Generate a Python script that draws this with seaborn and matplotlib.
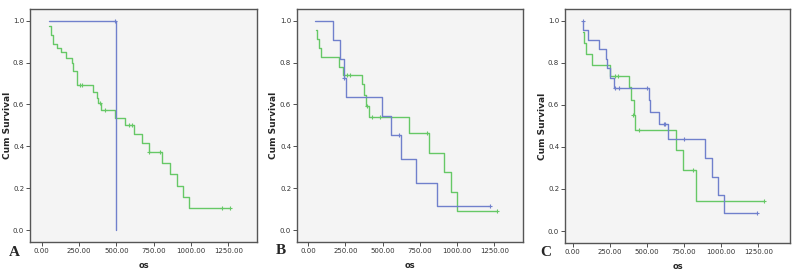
import numpy as np
import pandas as pd
import matplotlib
matplotlib.use("Agg")
import matplotlib.pyplot as plt
import seaborn as sns

# ---------------- data ----------------
# Panel A
a_blue_t = [50, 500]
a_blue_s = [1.0, 0.0]
a_blue_ct = [490]
a_blue_cs = [1.0]

a_green_t = [49, 60, 74, 100, 129, 163, 201, 212, 234, 346, 368, 379, 395, 491, 558,
             620, 670, 719, 804, 859, 904, 944, 989, 1261]
a_green_s = [0.975, 0.93, 0.89, 0.87, 0.85, 0.82, 0.80, 0.76, 0.695, 0.66, 0.63, 0.605,
             0.573, 0.537, 0.50, 0.46, 0.415, 0.375, 0.32, 0.27, 0.21, 0.16, 0.105, 0.105]
a_green_ct = [255, 268, 390, 424, 587, 607, 721, 792, 1205, 1261]
a_green_cs = [0.695, 0.695, 0.605, 0.573, 0.50, 0.50, 0.375, 0.375, 0.105, 0.105]

# Panel B
b_blue_t = [49, 167, 217, 239, 257, 496, 558, 625, 725, 868, 1221]
b_blue_s = [1.0, 0.909, 0.818, 0.727, 0.636, 0.545, 0.455, 0.341, 0.227, 0.114, 0.114]
b_blue_ct = [242, 614, 1221]
b_blue_cs = [0.727, 0.455, 0.114]

b_green_t = [54, 63, 75, 89, 205, 234, 360, 376, 388, 406, 679, 812, 915, 958, 998, 1266]
b_green_s = [0.957, 0.913, 0.87, 0.826, 0.78, 0.739, 0.696, 0.645, 0.595, 0.538, 0.462,
             0.369, 0.275, 0.183, 0.091, 0.091]
b_green_ct = [261, 283, 395, 429, 484, 797, 1266]
b_green_cs = [0.739, 0.739, 0.595, 0.538, 0.538, 0.462, 0.091]

# Panel C
c_blue_t = [68, 72, 106, 178, 225, 232, 248, 275, 511, 520, 579, 642, 890, 935, 980, 1018, 1243]
c_blue_s = [1.0, 0.957, 0.91, 0.864, 0.818, 0.773, 0.727, 0.682, 0.625, 0.568, 0.51,
            0.437, 0.349, 0.258, 0.171, 0.086, 0.086]
c_blue_ct = [68, 286, 309, 500, 612, 624, 748, 1243]
c_blue_cs = [1.0, 0.682, 0.682, 0.682, 0.51, 0.51, 0.437, 0.086]

c_green_t = [66, 78, 90, 133, 252, 381, 394, 410, 421, 696, 743, 827, 1290]
c_green_s = [0.947, 0.895, 0.842, 0.79, 0.737, 0.684, 0.625, 0.553, 0.482, 0.383, 0.29,
             0.144, 0.144]
c_green_ct = [286, 302, 405, 444, 811, 1290]
c_green_cs = [0.737, 0.737, 0.553, 0.482, 0.29, 0.144]

x_ticks = [0, 250, 500, 750, 1000, 1250]
x_tick_labels = ["0.00", "250.00", "500.00", "750.00", "1000.00", "1250.00"]
y_ticks = [0.0, 0.2, 0.4, 0.6, 0.8, 1.0]
y_tick_labels = ["0.0", "0.2", "0.4", "0.6", "0.8", "1.0"]
panel_letters = ["A", "B", "C"]

BLUE = "#7080cc"
GREEN = "#66c866"

sns.set_style("white")

fig = plt.figure(figsize=(8, 2.78), dpi=100)
rects = [
    (30 / 800, 1 - 242 / 278, 227 / 800, 233 / 278),
    (297 / 800, 1 - 242 / 278, 226 / 800, 233 / 278),
    (565 / 800, 1 - 243 / 278, 225 / 800, 234 / 278),
]
xlims = [(-78, 1442), (-74, 1443), (-52, 1462)]
ylabel_x = [-0.097, -0.104, -0.1]

panels = [
    (a_blue_t, a_blue_s, a_blue_ct, a_blue_cs, a_green_t, a_green_s, a_green_ct, a_green_cs),
    (b_blue_t, b_blue_s, b_blue_ct, b_blue_cs, b_green_t, b_green_s, b_green_ct, b_green_cs),
    (c_blue_t, c_blue_s, c_blue_ct, c_blue_cs, c_green_t, c_green_s, c_green_ct, c_green_cs),
]
letter_pos = [(14, 252), (281, 250), (546, 252)]

for i, (rect, data) in enumerate(zip(rects, panels)):
    bt, bs, bct, bcs, gt, gs, gct, gcs = data
    ax = fig.add_axes(rect)
    ax.set_facecolor("#f4f4f4")
    for color, t, s, ct, cs in [(GREEN, gt, gs, gct, gcs), (BLUE, bt, bs, bct, bcs)]:
        df = pd.DataFrame({"t": t, "s": s})
        sns.lineplot(data=df, x="t", y="s", ax=ax, color=color, linewidth=1.0,
                     drawstyle="steps-post", estimator=None, sort=False)
        dfc = pd.DataFrame({"t": ct, "s": cs})
        sns.scatterplot(data=dfc, x="t", y="s", ax=ax, color=color, marker="+",
                        s=10, linewidth=0.8, zorder=3)
    ax.set_xlim(*xlims[i])
    ax.set_ylim(-0.057, 1.056)
    ax.set_xticks(x_ticks)
    ax.set_xticklabels(x_tick_labels)
    ax.set_yticks(y_ticks)
    ax.set_yticklabels(y_tick_labels)
    ax.tick_params(axis="both", direction="out", length=3, width=0.6,
                   labelsize=5.0, colors="#333333", pad=1.2, bottom=True, left=True)
    for sp in ax.spines.values():
        sp.set_color("#555555")
        sp.set_linewidth(1.0)
    ax.set_xlabel("os", fontsize=6, fontweight="bold")
    ax.set_ylabel("Cum Survival", fontsize=6.5, fontweight="bold")
    ax.yaxis.set_label_coords(ylabel_x[i], 0.5)
    ax.xaxis.set_label_coords(0.5, -0.099)
    ax.xaxis.label.set_va("center")
    ax.yaxis.label.set_va("center")
    lx, ly = letter_pos[i]
    fig.text(lx / 800, 1 - ly / 278, panel_letters[i], fontsize=11, fontweight="bold",
             family="Liberation Serif", ha="center", va="center")

fig.savefig("out.png", dpi=100)
